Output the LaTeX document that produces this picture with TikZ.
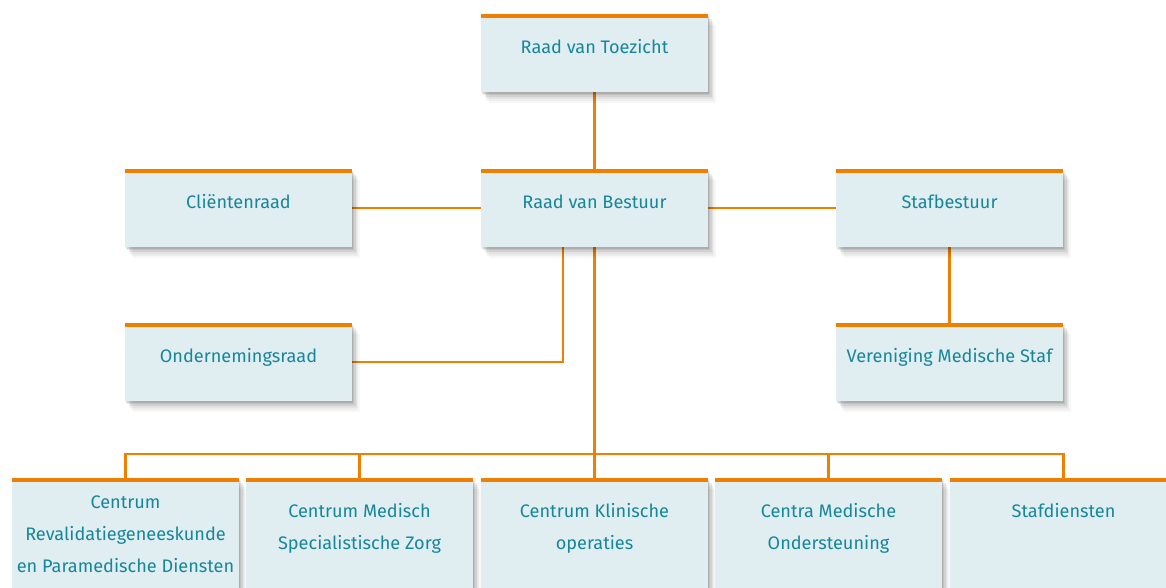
\documentclass[tikz,border=0pt]{standalone}
\usepackage{fontspec}
\setmainfont{Fira Sans}
\usetikzlibrary{shadows,backgrounds}
\definecolor{boxfill}{HTML}{E0EDF1}
\definecolor{tealtext}{HTML}{16879A}
\definecolor{orng}{HTML}{EE7F00}
\tikzset{
  orgbox/.style={fill=boxfill, draw=none, inner sep=0pt,
    minimum width=170.25pt, minimum height=58.5pt,
    drop shadow={shadow xshift=0.8pt, shadow yshift=-1.2pt, opacity=.10, fill=black},
    drop shadow={shadow xshift=1.8pt, shadow yshift=-2.6pt, opacity=.08, fill=black},
    drop shadow={shadow xshift=2.8pt, shadow yshift=-4.0pt, opacity=.07, fill=black},
    drop shadow={shadow xshift=3.8pt, shadow yshift=-5.4pt, opacity=.05, fill=black},
    drop shadow={shadow xshift=4.8pt, shadow yshift=-6.8pt, opacity=.04, fill=black},
    drop shadow={shadow xshift=5.8pt, shadow yshift=-8.2pt, opacity=.03, fill=black}},
  tallbox/.style={orgbox, minimum height=91.5pt},
  lbl/.style={text=tealtext, font=\fontsize{13.6}{24}\selectfont, align=center, inner sep=0pt, anchor=base},
  conn/.style={draw=orng, line width=2pt},
  topbar/.style={fill=orng},
}
\begin{document}
\begin{tikzpicture}[x=0.75pt, y=-0.75pt]
\useasboundingbox (0,0) rectangle (1166,587);
\clip (0,0) rectangle (1166,587);
% boxes
\node[orgbox] (toez) at (594.5,53) {};
\node[orgbox] (client) at (238.5,208) {};
\node[orgbox] (bestuur) at (594.5,208) {};
\node[orgbox] (staf) at (949.5,208) {};
\node[orgbox] (onder) at (238.5,362) {};
\node[orgbox] (vms) at (949.5,362) {};
\node[tallbox] (c1) at (125.5,539) {};
\node[tallbox] (c2) at (359.5,539) {};
\node[tallbox] (c3) at (594.5,539) {};
\node[tallbox] (c4) at (828.5,539) {};
\node[tallbox] (c5) at (1063.5,539) {};
% orange top bars
\foreach \n in {toez,client,bestuur,staf,onder,vms,c1,c2,c3,c4,c5}
  \fill[topbar] (\n.north west) rectangle ([yshift=-3pt]\n.north east);
% labels (anchor = baseline of the last line)
\node[lbl] (ttoez) at (594.5,53) {Raad van Toezicht};
\node[lbl] (tclient) at (238.5,208) {Cliëntenraad};
\node[lbl] (tbestuur) at (594.5,208) {Raad van Bestuur};
\node[lbl] (tstaf) at (949.5,208) {Stafbestuur};
\node[lbl] (tonder) at (238.5,362) {Ondernemingsraad};
\node[lbl] (tvms) at (949.5,362) {Vereniging Medische Staf};
\node[lbl] (tc1) at (125.5,572) {Centrum\\Revalidatiegeneeskunde\\en Paramedische Diensten};
\node[lbl] (tc2) at (359.5,549) {Centrum Medisch\\Specialistische Zorg};
\node[lbl] (tc3) at (594.5,549) {Centrum Klinische\\operaties};
\node[lbl] (tc4) at (828.5,549) {Centra Medische\\Ondersteuning};
\node[lbl] (tc5) at (1063.5,517) {Stafdiensten};
% connectors
\coordinate (bus) at (594.5,454);
\coordinate (ondtap) at (563,247);
\begin{scope}[on background layer]
\draw[conn] (toez.south) -- (bestuur.north);
\draw[conn] (client.east) -- (bestuur.west);
\draw[conn] (bestuur.east) -- (staf.west);
\draw[conn] (staf.south) -- (vms.north);
\draw[conn] (ondtap) |- (onder.east);
\draw[conn] (bestuur.south) -- (bus);
\draw[conn] (c1.north) |- (bus) -| (c5.north);
\draw[conn] (c2.north) -- (c2.north |- bus);
\draw[conn] (c3.north) -- (bus);
\draw[conn] (c4.north) -- (c4.north |- bus);
\end{scope}
\end{tikzpicture}
\end{document}
